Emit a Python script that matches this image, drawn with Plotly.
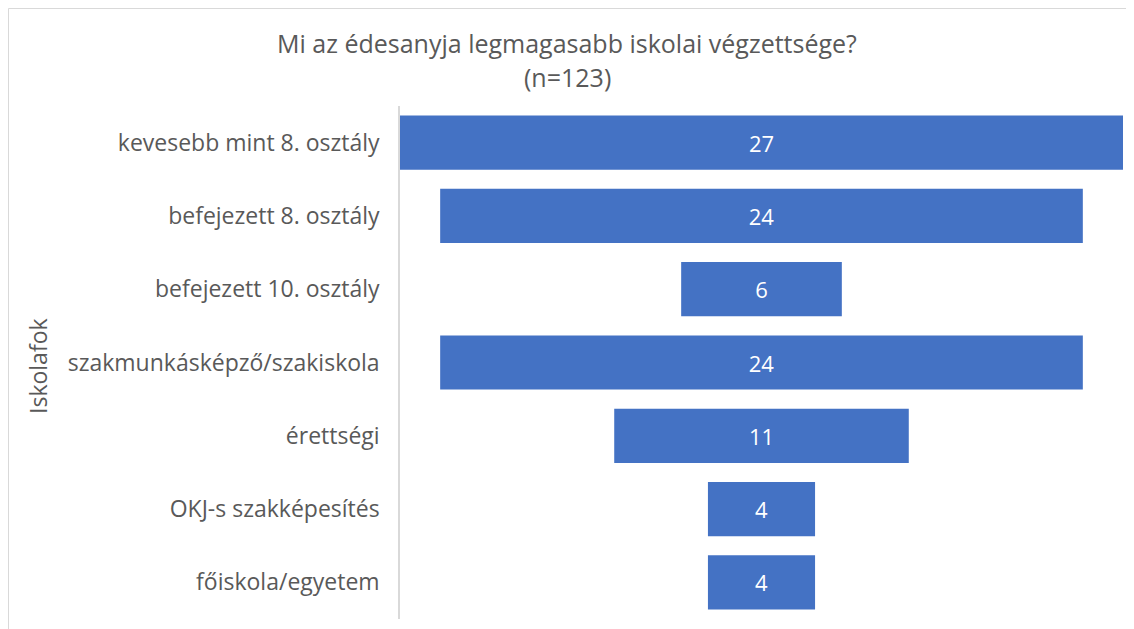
import plotly.graph_objects as go

categories = [
    "kevesebb mint 8. osztály",
    "befejezett 8. osztály",
    "befejezett 10. osztály",
    "szakmunkásképző/szakiskola",
    "érettségi",
    "OKJ-s szakképesítés",
    "főiskola/egyetem",
]
values = [27, 24, 6, 24, 11, 4, 4]
title_line1 = "Mi az édesanyja legmagasabb iskolai végzettsége?"
title_line2 = "(n=123)"
axis_title = "Iskolafok"

# page has an 8px body margin; work in reference pixel coordinates
OFF = 8
W, H = 1134 - OFF, 629 - OFF
ML, MR, MT, MB = 400 - OFF, 11, 106 - OFF, 10
PW, PH = W - ML - MR, H - MT - MB

def px_x(p):
    return (p - OFF - ML) / PW

def px_y(p):
    return 1 - (p - OFF - MT) / PH

FONT = "Open Sans, sans-serif"
GREY = "#595959"

fig = go.Figure(
    go.Funnel(
        y=categories,
        x=values,
        marker=dict(color="#4472C4"),
        connector=dict(visible=False),
        textinfo="value",
        textposition="inside",
        insidetextanchor="middle",
        textfont=dict(color="white", size=22, family=FONT),
        hoverinfo="skip",
    )
)

fig.update_layout(
    width=W,
    height=H,
    margin=dict(l=ML, r=MR, t=MT, b=MB),
    paper_bgcolor="white",
    plot_bgcolor="white",
    funnelgap=0.26,
    showlegend=False,
    font=dict(family=FONT, color=GREY),
    xaxis=dict(visible=False, range=[-13.5, 13.5], fixedrange=True),
    yaxis=dict(
        showline=True,
        linecolor="#d9d9d9",
        linewidth=1.5,
        ticks="",
        showgrid=False,
        ticklabelstandoff=14,
        tickfont=dict(size=23, color=GREY, family=FONT),
        autorange="reversed",
    ),
    annotations=[
        dict(text=title_line1, x=px_x(567), xref="paper", y=px_y(43), yref="paper",
             xanchor="center", yanchor="middle", showarrow=False,
             font=dict(size=25, color=GREY, family=FONT)),
        dict(text=title_line2, x=px_x(567), xref="paper", y=px_y(77), yref="paper",
             xanchor="center", yanchor="middle", showarrow=False,
             font=dict(size=25, color=GREY, family=FONT)),
        dict(text=axis_title, x=px_x(38), xref="paper", y=px_y(366), yref="paper",
             xanchor="center", yanchor="middle", showarrow=False, textangle=-90,
             font=dict(size=23, color=GREY, family=FONT)),
    ],
    shapes=[
        dict(type="line", xref="paper", yref="paper",
             x0=px_x(8.5), x1=px_x(1140), y0=px_y(8.5), y1=px_y(8.5),
             line=dict(color="#d9d9d9", width=1)),
        dict(type="line", xref="paper", yref="paper",
             x0=px_x(8.5), x1=px_x(8.5), y0=px_y(8.5), y1=px_y(640),
             line=dict(color="#d9d9d9", width=1)),
    ],
)

fig.write_html("out.html")
